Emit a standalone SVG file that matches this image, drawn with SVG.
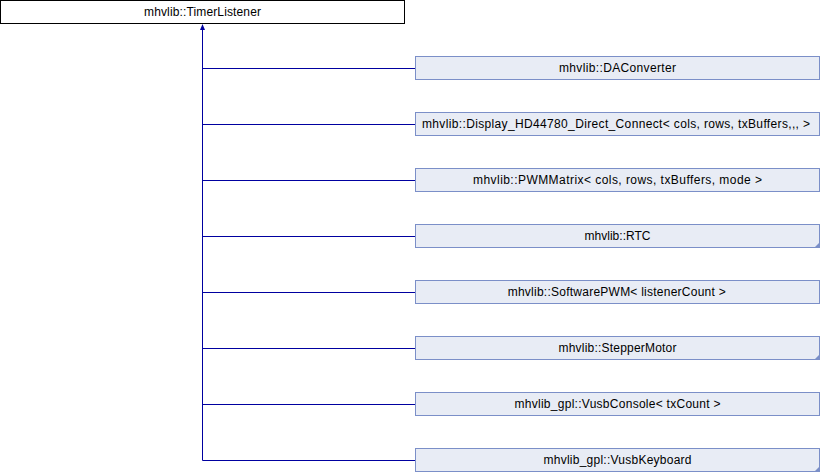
<svg xmlns="http://www.w3.org/2000/svg" width="820" height="472" viewBox="0 0 820 472">
<style>
.base{fill:#ffffff;stroke:#000000;stroke-width:1}
.node{fill:#e8ecf5;stroke:#7b8fc8;stroke-width:1}
.corner{fill:#7b8fc8;stroke:none}
.conn{stroke:#0000a0;stroke-width:1;fill:none}
text{font-family:"Liberation Sans",Arial,sans-serif;font-size:12px;fill:#000000;text-anchor:middle}
</style>
<rect width="820" height="472" fill="#ffffff"/>
<g id="connectors">
<path class="conn" d="M202.5,29 V460.5"/>
<polygon points="202.5,24 200,30 205,30" fill="#0000a0"/>
<path class="conn" d="M202.5,68.5 H415.5 M202.5,124.5 H415.5 M202.5,180.5 H415.5 M202.5,236.5 H415.5 M202.5,292.5 H415.5 M202.5,348.5 H415.5 M202.5,404.5 H415.5 M202.5,460.5 H415.5"/>
</g>
<g id="TimerListener">
<rect class="base" x="0.5" y="0.5" width="404" height="23"/>
<text x="202.5" y="16" textLength="117" lengthAdjust="spacing">mhvlib::TimerListener</text>
</g>
<g id="DAConverter">
<rect class="node" x="415.5" y="56.5" width="404" height="23"/>
<text x="617.5" y="72" textLength="117" lengthAdjust="spacing">mhvlib::DAConverter</text>
</g>
<g id="Display">
<rect class="node" x="415.5" y="112.5" width="404" height="23"/>
<text x="616" y="128" textLength="388" lengthAdjust="spacing">mhvlib::Display_HD44780_Direct_Connect&lt; cols, rows, txBuffers,,, &gt;</text>
</g>
<g id="PWMMatrix">
<rect class="node" x="415.5" y="168.5" width="404" height="23"/>
<text x="617.5" y="184" textLength="289" lengthAdjust="spacing">mhvlib::PWMMatrix&lt; cols, rows, txBuffers, mode &gt;</text>
</g>
<g id="RTC">
<rect class="node" x="415.5" y="224.5" width="404" height="23"/>
<polygon class="corner" points="820,242 820,248 814,248"/>
<text x="617.5" y="240" textLength="66" lengthAdjust="spacing">mhvlib::RTC</text>
</g>
<g id="SoftwarePWM">
<rect class="node" x="415.5" y="280.5" width="404" height="23"/>
<text x="616.7" y="296" textLength="218" lengthAdjust="spacing">mhvlib::SoftwarePWM&lt; listenerCount &gt;</text>
</g>
<g id="StepperMotor">
<rect class="node" x="415.5" y="336.5" width="404" height="23"/>
<polygon class="corner" points="820,354 820,360 814,360"/>
<text x="617.5" y="352" textLength="118" lengthAdjust="spacing">mhvlib::StepperMotor</text>
</g>
<g id="VusbConsole">
<rect class="node" x="415.5" y="392.5" width="404" height="23"/>
<text x="617.5" y="408" textLength="206" lengthAdjust="spacing">mhvlib_gpl::VusbConsole&lt; txCount &gt;</text>
</g>
<g id="VusbKeyboard">
<rect class="node" x="415.5" y="448.5" width="404" height="23"/>
<polygon class="corner" points="820,466 820,472 814,472"/>
<text x="617.5" y="464" textLength="148" lengthAdjust="spacing">mhvlib_gpl::VusbKeyboard</text>
</g>
</svg>
